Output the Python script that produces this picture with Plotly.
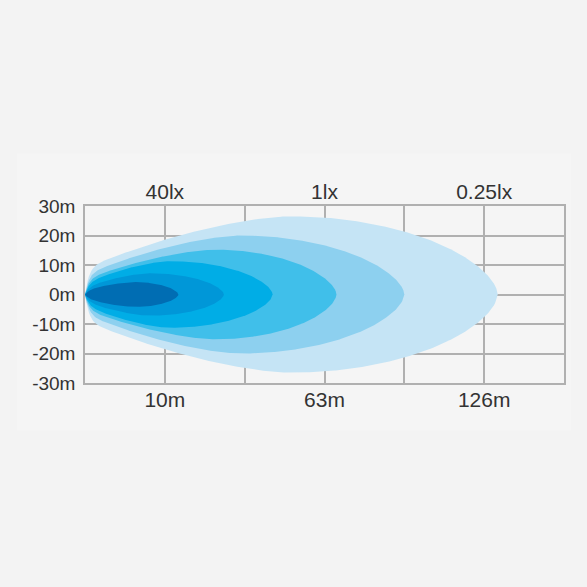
import numpy as np
import plotly.graph_objects as go

# ---- axis labels ----
y_tick_values = [30, 20, 10, 0, -10, -20, -30]
y_tick_labels = ["30m", "20m", "10m", "0m", "-10m", "-20m", "-30m"]
x_grid_columns = [0, 1, 2, 3, 4, 5, 6]
x_tick_values = [1, 3, 5]
distance_labels = ["10m", "63m", "126m"]
lux_labels = ["40lx", "1lx", "0.25lx"]

# ---- beam layers, outermost first (reach / peak position in grid columns, half-width in m) ----
beam_reach = [5.17, 4.00, 3.15, 2.35, 1.74, 1.17]
beam_peak_at = [2.57, 1.95, 1.63, 1.07, 0.82, 0.63]
beam_half_width = [26.5, 20.0, 15.2, 11.3, 7.2, 4.2]
beam_colors = ["#c5e4f5", "#8dd0ef", "#40bfea", "#00ade6", "#0097d8", "#006db3"]


def beam_outline(reach, peak, half):
    xl = np.linspace(0, peak, 160)
    t = xl / peak
    nose = 0.34 * (1 - np.exp(-xl / 0.05))
    ramp = 0.66 * (1 - (1 - t) ** 1.6)
    wl = half * (nose + ramp)
    xr = np.linspace(peak, reach, 160)[1:]
    d = (xr - peak) / (reach - peak)
    wr = half * np.clip(1 - d ** 2, 0, None) ** 0.6
    x = np.concatenate([xl, xr])
    w = np.concatenate([wl, wr])
    xs = np.concatenate([x, x[::-1]])
    ys = np.concatenate([w, -w[::-1]])
    return xs, ys


fig = go.Figure()
for reach, peak, half, color in zip(beam_reach, beam_peak_at, beam_half_width, beam_colors):
    xs, ys = beam_outline(reach, peak, half)
    fig.add_trace(go.Scatter(x=xs, y=ys, mode="lines", fill="toself",
                             fillcolor=color, line=dict(width=0, color=color),
                             hoverinfo="skip"))

# invisible trace to carry the top axis
fig.add_trace(go.Scatter(x=[0, 6], y=[0, 0], xaxis="x2", mode="markers",
                         marker=dict(opacity=0), hoverinfo="skip"))

grid_col = "#b0b0b0"
font_col = "#333333"
font_fam = "Liberation Sans, Arial, sans-serif"

fig.update_layout(
    width=587, height=587,
    margin=dict(l=85, r=23, t=206, b=204),
    paper_bgcolor="#f3f3f3",
    plot_bgcolor="#f5f5f5",
    showlegend=False,
    font=dict(family=font_fam, color=font_col),
    xaxis=dict(range=[0, 6], tickmode="array", tickvals=x_tick_values,
               ticktext=distance_labels, showgrid=False, zeroline=False,
               showline=True, mirror=True, linecolor=grid_col, linewidth=1.5,
               tickfont=dict(size=21, color=font_col), ticks="",
               ticklabelstandoff=-3, layer="below traces",
               minor=dict(tickmode="array", tickvals=x_grid_columns, showgrid=True,
                          gridcolor=grid_col, gridwidth=1.5)),
    xaxis2=dict(range=[0, 6], overlaying="x", side="top", matches="x",
                tickmode="array", tickvals=x_tick_values, ticktext=lux_labels,
                showgrid=False, zeroline=False, showline=False, ticks="",
                tickfont=dict(size=21, color=font_col), ticklabelstandoff=2,
                layer="below traces"),
    yaxis=dict(range=[-30, 30], tickmode="array", tickvals=y_tick_values,
               ticktext=y_tick_labels, showgrid=True, gridcolor=grid_col,
               gridwidth=1.5, zeroline=False, showline=True, mirror=True,
               linecolor=grid_col, linewidth=1.5, ticks="",
               tickfont=dict(size=19, color=font_col), ticklabelstandoff=4,
               layer="below traces"),
)

# faint lighter band behind the chart
fig.add_shape(type="rect", xref="paper", yref="paper",
              x0=-0.142, x1=1.015, y0=-0.268, y1=1.297,
              fillcolor="#f5f5f5", line=dict(width=0), layer="below")

fig.write_html("out.html",
               config={"displayModeBar": False},
               post_script="document.body.style.margin='0';"
                           "document.body.style.background='#f3f3f3';")
